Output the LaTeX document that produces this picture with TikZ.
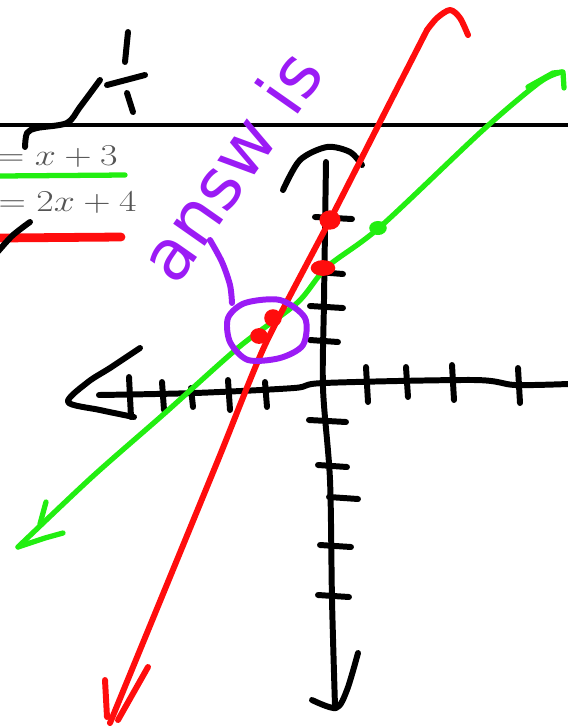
\documentclass[tikz,border=0pt]{standalone}
\usepackage{graphicx}
\usepackage{fontspec}
\newfontfamily\handfont{DejaVu Sans}
\usetikzlibrary{calc}
\definecolor{InkRed}{HTML}{FF0D0D}
\definecolor{InkGreen}{HTML}{22EE11}
\definecolor{InkPurple}{HTML}{9B1BF5}
\definecolor{PrintGray}{HTML}{555555}
\tikzset{
  ink/.style={line width=3.4pt, line cap=round, line join=round},
  blackink/.style={ink, draw=black},
  redink/.style={ink, draw=InkRed},
  greenink/.style={ink, draw=InkGreen, line width=3pt},
  purpleink/.style={ink, draw=InkPurple},
  printtext/.style={text=PrintGray, inner sep=0pt, font=\fontsize{19}{22}\selectfont}
}

\begin{document}
\begin{tikzpicture}[x=0.02cm, y=-0.02cm]
\useasboundingbox (0,0) rectangle (568,728);
\clip (0,0) rectangle (568,728);

% printed part
\draw[line width=2.6pt] (0,125) -- (568,125);
\node[printtext, anchor=base east] (eqgreen) at (118,165) {\scalebox{1.25}[1]{$=x+3$}};
\node[printtext, anchor=base east] (eqred) at (137,211) {\scalebox{1.25}[1]{$=2x+4$}};
\draw[greenink] (0,176) -- (125,175);
\draw[redink, line width=5pt] (0,238) -- (121,237);

% black scribbles top left
\draw[blackink] plot[smooth] coordinates {(25,147) (27,133) (37,128) (67,123) (80,107) (100,80)};
\draw[blackink] (107,85) -- (145,75);
\draw[blackink] (128,32) -- (125,62);
\draw[blackink] (127,93) -- (133,112);
\draw[blackink] plot[smooth] coordinates {(30,222) (12,236) (-5,255)};

% axes
\draw[blackink] plot[smooth] coordinates {(283,190) (300,160) (327,147) (350,152) (362,165)};
\draw[blackink] plot[smooth] coordinates {(326,162) (324,300) (323,388) (330,480) (332,600) (335,706)};
\draw[blackink] plot[smooth] coordinates {(312,700) (336,708) (347,690) (358,653)};
\draw[blackink] plot[smooth] coordinates {(99,395) (195,393) (294,388) (324,383) (474,380) (515,385) (568,384)};
\draw[blackink] plot[smooth] coordinates {(140,348) (110,368) (88,382) (68,402) (100,410) (134,417)};
\foreach \tx/\ya/\yb in {129/377/417, 162/382/410, 191/388/407, 228/380/410, 265/382/407,
    366/367/402, 406/367/397, 452/365/400, 518/368/403}
  \draw[blackink] (\tx,\ya) -- (\tx+2,\yb);
\foreach \ty/\xa/\xb in {217/315/352, 272/318/343, 306/310/343, 340/310/338,
    420/309/346, 465/318/347, 497/329/358, 545/320/351, 595/318/349}
  \draw[blackink] (\xa,\ty) -- (\xb,\ty+2);

% green line
\draw[greenink] plot[smooth] coordinates {(18,547) (92,477) (165,413) (239,347) (297,303) (327,267) (380,227) (483,130) (540,82) (562,72)};
\draw[greenink] (528,87) -- (553,73) -- (563,72) -- (564,88);
\draw[greenink] (46,502) -- (40,524);
\draw[greenink] (63,533) -- (45,538) -- (18,547);
\fill[InkGreen] (378,228) ellipse [x radius=5pt, y radius=4pt];

% red line
\draw[redink] plot[smooth, tension=0.5] coordinates {(468,35) (460,18) (450,10) (437,18) (427,30)};
\draw[redink] plot[smooth, tension=0.4] coordinates {(427,30) (380,122) (330,220) (265,345) (216,465) (110,723)};
\draw[redink] (105,680) -- (107,717);
\draw[redink] (148,667) -- (118,720);
\fill[InkRed] (330,220) ellipse [x radius=6pt, y radius=5.5pt];
\fill[InkRed] (323,268) ellipse [x radius=7pt, y radius=4.5pt];
\fill[InkRed] (273,318) ellipse [x radius=5pt, y radius=5pt];
\fill[InkRed] (259,336) ellipse [x radius=5pt, y radius=4.5pt];

% purple notes
\draw[purpleink] plot[smooth cycle] coordinates {(245,303) (280,300) (305,318) (303,345) (280,358) (248,360) (230,342) (228,318)};
\draw[purpleink] plot[smooth] coordinates {(210,240) (222,262) (230,285) (232,303)};
\node[rotate=55, text=InkPurple, inner sep=0pt, font=\handfont\fontsize{40}{44}\selectfont] (answnote) at (230,165) {answ\,\,is};
\end{tikzpicture}
\end{document}
